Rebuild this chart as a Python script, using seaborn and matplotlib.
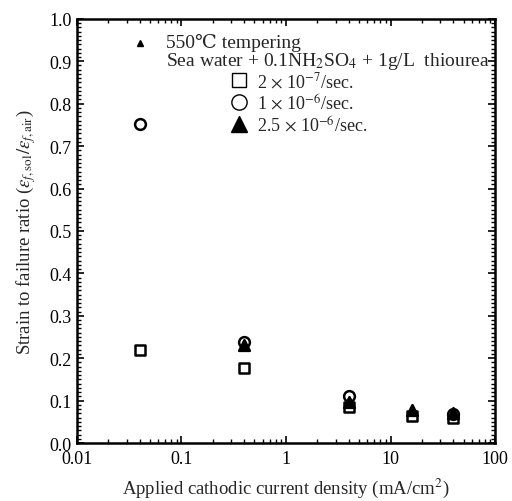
import matplotlib
matplotlib.use("Agg")
import matplotlib.pyplot as plt
import seaborn as sns
import pandas as pd
import numpy as np
from matplotlib.ticker import MultipleLocator, LogLocator, FixedLocator, NullFormatter
from matplotlib.lines import Line2D

sns.set_theme(style="ticks")
plt.rcParams['font.family'] = ['Liberation Serif', 'DejaVu Serif']
plt.rcParams['mathtext.fontset'] = 'stix'

# data
sq_x = [0.04, 0.4, 4, 16, 40]
sq_y = [0.22, 0.178, 0.086, 0.064, 0.059]
ci_x = [0.04, 0.4, 4, 40]
ci_y = [0.752, 0.238, 0.11, 0.068]
tr_x = [0.4, 4, 16, 40]
tr_y = [0.232, 0.097, 0.077, 0.07]
labels = [r"2 $\times$ 10$^{-7}$/sec.", r"1 $\times$ 10$^{-6}$/sec.", r"2.5 $\times$ 10$^{-6}$/sec."]
xticks = [0.01, 0.1, 1, 10, 100]
xticklabels = ['0.01', '0.1', '1', '10', '100']

df = pd.DataFrame({
    "x": sq_x + ci_x + tr_x,
    "y": sq_y + ci_y + tr_y,
    "rate": [labels[0]] * len(sq_x) + [labels[1]] * len(ci_x) + [labels[2]] * len(tr_x),
})

fig = plt.figure(figsize=(5.12, 5.02), dpi=100)
ax = fig.add_axes([0.150, 0.1155, 0.817, 0.845])

styles = {labels[0]: dict(marker='s', facecolor='white', edgecolor='black'),
          labels[1]: dict(marker='o', facecolor='white', edgecolor='black'),
          labels[2]: dict(marker='^', facecolor='black', edgecolor='black')}
for lab in labels:
    sub = df[df.rate == lab]
    st = styles[lab]
    sns.scatterplot(data=sub, x="x", y="y", ax=ax, marker=st['marker'], s=60,
                    facecolor=st['facecolor'], edgecolor=st['edgecolor'], linewidth=1.8,
                    legend=False, zorder=3)

ax.set_xscale('log')
ax.set_xlim(0.01, 100)
ax.set_ylim(0, 1.0)
ax.xaxis.set_major_locator(FixedLocator(xticks))
ax.set_xticklabels(xticklabels)
ax.xaxis.set_minor_locator(LogLocator(base=10, subs=np.arange(2, 10)))
ax.xaxis.set_minor_formatter(NullFormatter())
yt = np.round(np.arange(0, 1.01, 0.1), 1)
ax.yaxis.set_major_locator(FixedLocator(yt))
ax.set_yticklabels([f"{v:.1f}" for v in yt])
ax.yaxis.set_minor_locator(MultipleLocator(0.01))

ax.tick_params(which='both', direction='in', top=True, right=True, labelsize=13, colors='black')
ax.tick_params(axis='x', which='major', pad=5)
ax.tick_params(which='major', length=5, width=1.2)
ax.tick_params(which='minor', length=3, width=1.0)
for s in ax.spines.values():
    s.set_linewidth(1.8)
    s.set_color('black')

ax.set_xlabel("Applied cathodic current density (mA/cm$^{2}$)", fontsize=13.5, labelpad=6)
ax.set_ylabel(r"Strain to failure ratio ($\varepsilon_{f,\mathrm{sol}}/\varepsilon_{f,\mathrm{air}}$)", fontsize=13.5, labelpad=8)

# annotations
ax.plot([0.04], [0.944], marker='^', color='black', markersize=5, clip_on=False)
ax.text(0.072, 0.946, "550℃ tempering", fontsize=14, va='center', ha='left')
ax.text(0.072, 0.901, r"Sea water + 0.1NH$_2$SO$_4$ + 1g/L  thiourea", fontsize=14, va='center', ha='left')

handles = [Line2D([], [], linestyle='none', marker='s', markersize=10, markerfacecolor='white', markeredgecolor='black', markeredgewidth=1.0),
           Line2D([], [], linestyle='none', marker='o', markersize=11, markerfacecolor='white', markeredgecolor='black', markeredgewidth=1.0),
           Line2D([], [], linestyle='none', marker='^', markersize=11, markerfacecolor='black', markeredgecolor='black')]
leg = ax.legend(handles, labels, loc='upper left', bbox_to_anchor=(0.345, 0.895), frameon=False,
                fontsize=13, handletextpad=0.4, labelspacing=0.1, borderaxespad=0, handlelength=1.2)

fig.savefig("out.png", dpi=100)
